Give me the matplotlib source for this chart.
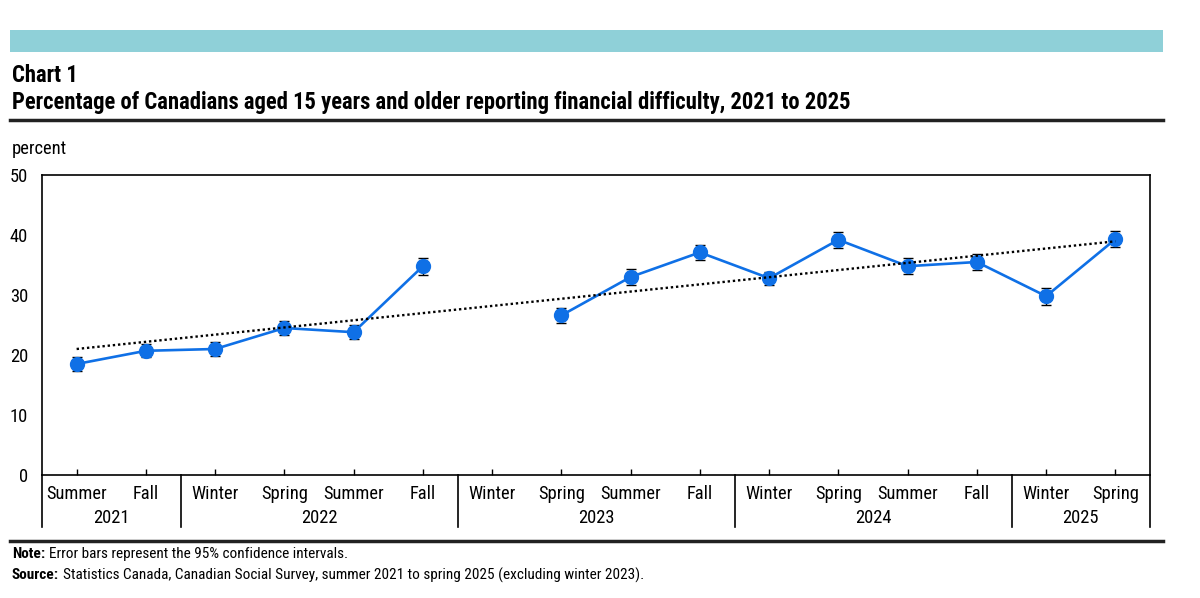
import numpy as np
import matplotlib.pyplot as plt
from matplotlib import font_manager as fm
from matplotlib.lines import Line2D
from matplotlib.patches import Rectangle

# pick a narrow sans if one is installed (reference uses a condensed face)
family, stretch = 'Liberation Sans', 'normal'
prefs = ['LiberationSansNarrow', 'RobotoCondensed', 'DejaVuSansCondensed',
         'NotoSans-Condensed', 'NotoSansCondensed', 'OpenSans_Condensed',
         'OpenSansCondensed', 'Condensed', 'Narrow']
found = None
for p in prefs:
    for f in fm.fontManager.ttflist:
        if p in f.fname.replace(' ', '') and 'Semi' not in f.fname:
            found = f
            break
    if found:
        break
if found:
    family, stretch = found.name, found.stretch
plt.rcParams['font.family'] = [family, 'DejaVu Sans']
plt.rcParams['font.stretch'] = stretch

# data
seasons = ['Summer', 'Fall', 'Winter', 'Spring', 'Summer', 'Fall',
           'Winter', 'Spring', 'Summer', 'Fall',
           'Winter', 'Spring', 'Summer', 'Fall', 'Winter', 'Spring']
years = ['2021', '2022', '2023', '2024', '2025']
year_spans = [(0, 1), (2, 5), (6, 9), (10, 13), (14, 15)]
values = [18.5, 20.7, 21.0, 24.5, 23.8, 34.8, np.nan, 26.6, 33.0, 37.1,
          32.8, 39.2, 34.8, 35.5, 29.8, 39.3]
ci = [1.1, 1.1, 1.2, 1.2, 1.2, 1.4, np.nan, 1.2, 1.3, 1.3,
      1.1, 1.3, 1.3, 1.3, 1.4, 1.3]

x = np.arange(len(seasons))
y = np.array(values)
err = np.array(ci)

W, H = 1200, 598
fig = plt.figure(figsize=(12, 5.98), dpi=100)

def fy(py):
    return 1 - py / H

ax = fig.add_axes([42 / W, fy(475), (1150 - 42) / W, (475 - 175) / H])

blue = '#0f70e6'
ax.errorbar(x, y, yerr=err, fmt='none', ecolor='black', elinewidth=1,
            capsize=3.5, capthick=1, zorder=3)
ax.plot(x, y, color=blue, lw=1.9, marker='o', ms=10, zorder=4)

# linear trend over observed points
ok = ~np.isnan(y)
k, b = np.polyfit(x[ok], y[ok], 1)
ax.plot([x[0], x[-1]], [k * x[0] + b, k * x[-1] + b], color='black',
        ls=(0, (1, 1.2)), lw=1.7, zorder=5)

ax.set_xlim(-0.5, 15.5)
ax.set_ylim(0, 50)
ax.set_yticks([0, 10, 20, 30, 40, 50])
ax.set_xticks(x)
ax.set_xticklabels(seasons)
ax.tick_params(axis='x', direction='in', length=4, width=1, pad=7, labelsize=13.3)
ax.tick_params(axis='y', length=0, pad=10, labelsize=13.3)
for s in ax.spines.values():
    s.set_linewidth(1.2)

# year separators and labels below the axis
tr = ax.get_xaxis_transform()
low = -(527 - 475) / 300
for bound in [-0.5, 1.5, 5.5, 9.5, 13.5, 15.5]:
    ax.plot([bound, bound], [0, low], color='black', lw=1.2,
            transform=tr, clip_on=False)
for yr, (a, c) in zip(years, year_spans):
    ax.text((a + c) / 2, -(518 - 475) / 300, yr, transform=tr,
            ha='center', va='center', fontsize=13.3)

# header
fig.add_artist(Rectangle((10 / W, fy(52)), (1163 - 10) / W, 22 / H,
                         color='#8fd0d8', lw=0))
fig.text(12 / W, fy(75), 'Chart 1', fontsize=16.3, fontweight='bold', va='center')
fig.text(12 / W, fy(102), 'Percentage of Canadians aged 15 years and older reporting '
         'financial difficulty, 2021 to 2025', fontsize=16.3, fontweight='bold',
         va='center')
fig.add_artist(Line2D([10 / W, 1163 / W], [fy(120), fy(120)], color='#222222', lw=2.5))
fig.text(12 / W, fy(149), 'percent', fontsize=13.3, va='center')

# footer
fig.add_artist(Line2D([10 / W, 1163 / W], [fy(541), fy(541)], color='#222222', lw=2.5))
renderer = fig.canvas.get_renderer()
notes = [(554, 'Note:', 'Error bars represent the 95% confidence intervals.'),
         (575, 'Source:', 'Statistics Canada, Canadian Social Survey, summer 2021 '
          'to spring 2025 (excluding winter 2023).')]
for py, head, body in notes:
    t = fig.text(12 / W, fy(py), head, fontsize=11, fontweight='bold', va='center')
    bb = t.get_window_extent(renderer)
    fig.text((bb.x1 + 4) / W, fy(py), body, fontsize=11, va='center')

fig.savefig('out.png', dpi=100)
